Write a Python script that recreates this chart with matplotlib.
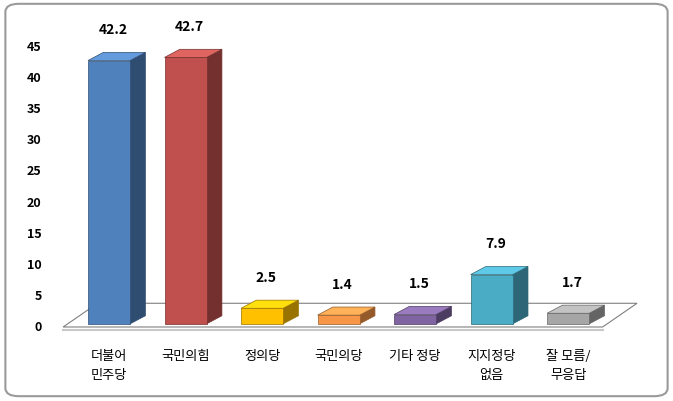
import matplotlib
matplotlib.use("Agg")
import matplotlib.pyplot as plt
from matplotlib.patches import Polygon, FancyBboxPatch
import matplotlib.colors as mc

plt.rcParams['font.family'] = ['Noto Sans CJK KR', 'DejaVu Sans']

categories = ["더불어\n민주당", "국민의힘", "정의당", "국민의당", "기타 정당", "지지정당\n없음", "잘 모름/\n무응답"]
values = [42.2, 42.7, 2.5, 1.4, 1.5, 7.9, 1.7]
colors = ["#4F81BD", "#C0504D", "#FFC000", "#F79646", "#8064A2", "#4BACC6", "#A6A6A6"]
yticks = [0, 5, 10, 15, 20, 25, 30, 35, 40, 45]

fig = plt.figure(figsize=(6.73, 4.02), dpi=100)
ax = fig.add_axes([0, 0, 1, 1])
ax.set_xlim(-1.425, 7.37)
ax.set_ylim(-11.86, 52.56)
ax.axis('off')

fig.patches.append(FancyBboxPatch((0.008, 0.012), 0.984, 0.976, boxstyle="round,pad=0,rounding_size=0.02",
                                  transform=fig.transFigure, fill=False, edgecolor="#9a9a9a", lw=1.5))

fx0, fx1, fdx, fdy = -0.6, 6.45, 0.45, 3.8
ax.add_patch(Polygon([(fx0, 0), (fx1, 0), (fx1 + fdx, fdy), (fx0 + fdx, fdy)],
                     closed=True, facecolor="white", edgecolor="#808080", lw=0.8))
ax.plot([fx0, fx1], [-0.5, -0.5], color="#c8c8c8", lw=1.5, zorder=0)

w, dx, dy, base = 0.55, 0.2, 1.3, 0.5
for i, (v, c) in enumerate(zip(values, colors)):
    x0 = i - w / 2
    x1 = i + w / 2
    top = base + v
    rgb = mc.to_rgb(c)
    dark = tuple(x * 0.6 for x in rgb)
    light = tuple(min(1, x * 1.1 + 0.05) for x in rgb)
    ax.add_patch(Polygon([(x1, base), (x1 + dx, base + dy), (x1 + dx, top + dy), (x1, top)],
                         facecolor=dark, edgecolor=dark, lw=0.5))
    ax.add_patch(Polygon([(x0, top), (x1, top), (x1 + dx, top + dy), (x0 + dx, top + dy)],
                         facecolor=light, edgecolor=dark, lw=0.5))
    ax.add_patch(Polygon([(x0, base), (x1, base), (x1, top), (x0, top)],
                         facecolor=c, edgecolor=dark, lw=0.5))
    ax.text(i + 0.05, top + 5.0, f"{v}", ha='center', va='center', fontsize=10, fontweight='bold')
    ax.text(i, -3.5, categories[i], ha='center', va='top', fontsize=9.5, linespacing=1.6)

for t in yticks:
    ax.text(-0.88, t, str(t), ha='right', va='center', fontsize=9, fontweight='bold')

fig.savefig("out.png", dpi=100)
